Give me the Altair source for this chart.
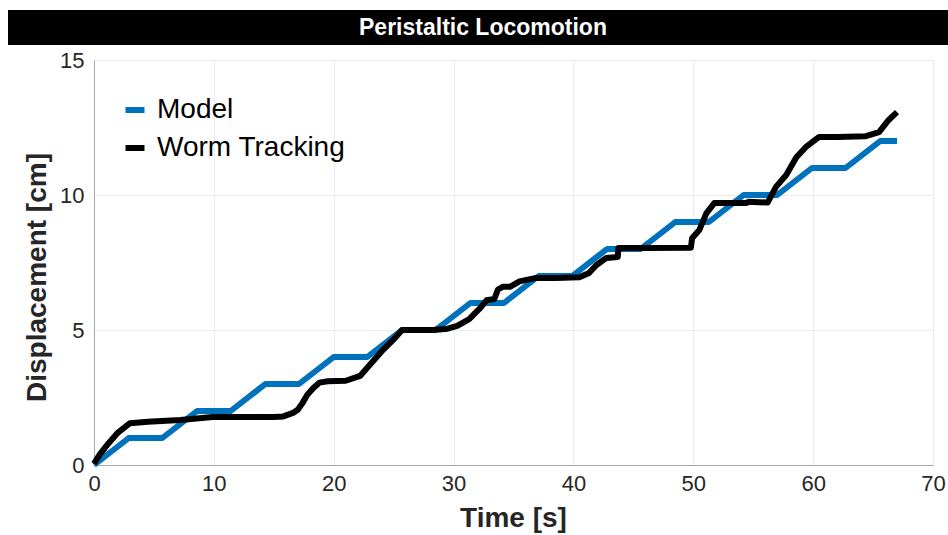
import altair as alt
import pandas as pd

TITLE = "Peristaltic Locomotion"
SERIES = ["Model", "Worm Tracking"]
COLORS = ["#0072BD", "#000000"]

model_t = [0, 2.9, 5.7, 8.6, 11.4, 14.3, 17.1, 20.0, 22.8, 25.7, 28.5, 31.4, 34.2,
           37.1, 39.9, 42.8, 45.6, 48.5, 51.3, 54.2, 57.0, 59.9, 62.7, 65.6, 67.0]
model_y = [0, 1, 1, 2, 2, 3, 3, 4, 4, 5, 5, 6, 6,
           7, 7, 8, 8, 9, 9, 10, 10, 11, 11, 12, 12]

worm_t = [0, 0.5, 1.2, 2.0, 3.0, 4.5, 7.2, 9.9, 12.0, 15.0, 15.8, 16.6, 17.0, 17.4,
          17.8, 18.3, 18.8, 19.5, 21.0, 22.2, 22.8, 24.1, 25.0, 25.7, 26.5, 28.3,
          29.5, 30.3, 30.9, 31.3, 31.9, 32.2, 32.75, 33.4, 33.7, 34.1, 34.7, 35.5,
          36.9, 38.5, 40.5, 41.3, 41.9, 42.75, 43.7, 43.75, 46, 49.8, 49.9, 50.5,
          51.1, 51.75, 53, 54.4, 54.6, 56.2, 56.9, 57.75, 58.6, 59.4, 60.5, 62,
          64.4, 65.5, 66.3, 67.0]
worm_y = [0.05, 0.4, 0.8, 1.2, 1.55, 1.6, 1.67, 1.78, 1.78, 1.78, 1.8, 1.93, 2.05, 2.3,
          2.6, 2.85, 3.05, 3.1, 3.12, 3.3, 3.6, 4.26, 4.65, 5.0, 5.0, 5.0,
          5.05, 5.15, 5.3, 5.4, 5.67, 5.8, 6.1, 6.15, 6.5, 6.6, 6.6, 6.8,
          6.93, 6.93, 6.95, 7.11, 7.4, 7.67, 7.7, 8.04, 8.04, 8.05, 8.4, 8.7,
          9.33, 9.7, 9.7, 9.7, 9.75, 9.72, 10.3, 10.74, 11.4, 11.78, 12.15, 12.15,
          12.18, 12.33, 12.78, 13.07]

x_ticks = [0, 10, 20, 30, 40, 50, 60, 70]
y_ticks = [0, 5, 10, 15]

rows = []
for i, (t, y) in enumerate(zip(model_t, model_y)):
    rows.append({"t": t, "y": y, "series": SERIES[0], "order": i})
for i, (t, y) in enumerate(zip(worm_t, worm_y)):
    rows.append({"t": t, "y": y, "series": SERIES[1], "order": 1000 + i})
df = pd.DataFrame(rows)

FONT = "Liberation Sans"

lines = alt.Chart(df).mark_line(strokeWidth=6, strokeJoin="round", strokeCap="butt").encode(
    x=alt.X("t:Q", scale=alt.Scale(domain=[0, 70], nice=False),
            axis=alt.Axis(values=x_ticks, title="Time [s]", grid=True, ticks=False,
                          labelFlush=False,
                          labelFontSize=22, labelPadding=8, labelColor="#262626",
                          titleFontSize=28, titleFontWeight="bold", titleColor="#262626",
                          titleX=419, titleY=53, titleBaseline="middle", titleAlign="center",
                          domainColor="#a8a8a8", gridColor="#ececec", labelFont=FONT,
                          titleFont=FONT)),
    y=alt.Y("y:Q", scale=alt.Scale(domain=[0, 15], nice=False),
            axis=alt.Axis(values=y_ticks, title="Displacement [cm]", grid=True, ticks=False,
                          labelFlush=False,
                          labelFontSize=22, labelPadding=10, labelColor="#262626",
                          titleFontSize=28, titleFontWeight="bold", titleColor="#262626",
                          titleX=-57, titleY=217, titleAngle=-90, titleBaseline="middle",
                          titleAlign="center",
                          domainColor="#a8a8a8", gridColor="#ececec", labelFont=FONT,
                          titleFont=FONT)),
    color=alt.Color("series:N", scale=alt.Scale(domain=SERIES, range=COLORS),
                    legend=alt.Legend(title=None, orient="none", legendX=27, legendY=36,
                                      symbolType="stroke", symbolSize=361,
                                      symbolStrokeWidth=6, labelFontSize=28,
                                      labelFont=FONT, labelColor="#000000",
                                      labelLimit=400,
                                      labelOffset=8, rowPadding=10)),
    order=alt.Order("order:Q"),
)

title_df = pd.DataFrame({"label": [TITLE]})
bar = alt.Chart(title_df).mark_rect(color="#000000").encode(
    x=alt.value(-86), x2=alt.value(854), y=alt.value(-50), y2=alt.value(-15)
)
title_text = alt.Chart(title_df).mark_text(
    color="#ffffff", fontSize=23, fontWeight="bold", font=FONT, align="center", baseline="middle"
).encode(x=alt.value(389), y=alt.value(-32), text="label:N")

chart = alt.layer(lines, bar, title_text).properties(
    width=839, height=405,
    autosize=alt.AutoSizeParams(type="none"),
    padding={"left": 94, "top": 60, "right": 15, "bottom": 70},
).configure_view(stroke=None).configure(background="#ffffff")

chart.save("out.html", embed_options={"renderer": "svg", "actions": False})
